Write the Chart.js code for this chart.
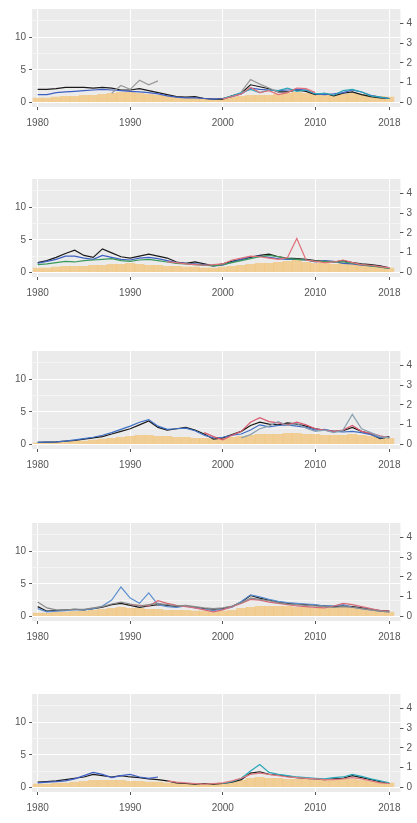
<!DOCTYPE html>
<html><head><meta charset="utf-8">
<script src="https://cdn.jsdelivr.net/npm/chart.js@4"></script>
<style>
body{margin:0;background:#fff;width:417px;height:823px;overflow:hidden;position:relative}
.p{position:absolute;left:0;width:417px;height:136px}
</style></head><body>
<div class="p" style="top:0px"><canvas id="c0"></canvas></div>
<div class="p" style="top:170px"><canvas id="c1"></canvas></div>
<div class="p" style="top:342px"><canvas id="c2"></canvas></div>
<div class="p" style="top:514px"><canvas id="c3"></canvas></div>
<div class="p" style="top:685px"><canvas id="c4"></canvas></div>
<script>
let years = [];
for (let y = 1980; y <= 2018; y++) years.push(y);
let xTicks = [1980, 1990, 2000, 2010, 2018];
let leftTicks = [0, 5, 10];
let rightTicks = [0, 1, 2, 3, 4];
const N = null;

// panel 1
let p1Black = [2.0,2.0,2.1,2.3,2.3,2.3,2.2,2.3,2.2,1.9,1.9,2.1,1.8,1.5,1.2,0.9,0.8,0.9,0.6,0.5,0.5,1.0,1.4,2.7,2.4,2.1,1.6,1.6,1.9,1.7,1.2,1.4,1.0,1.4,1.6,1.2,0.9,0.7,0.6];
let p1Blue = [1.2,1.2,1.5,1.6,1.7,1.8,1.9,2.0,1.9,1.8,1.7,1.6,1.5,1.3,1.0,0.8,0.7,0.7,0.6,0.5,0.6,0.9,1.3,2.2,2.0,1.9,1.8,1.9,2.0,1.9,1.3,1.2,1.3,1.5,1.9,1.6,1.1,0.8,0.6];
let p1Grey = [N,N,N,N,N,N,N,N,1.4,2.6,2.0,3.4,2.7,3.3,N,N,N,N,N,N,N,N,1.6,3.5,2.8,2.2,1.6,N,N,N,N,N,N,N,N,N,N,N,N];
let p1Cyan = [N,N,N,N,N,N,N,N,N,N,N,N,N,N,N,N,N,N,N,N,0.6,1.0,1.5,2.0,1.5,1.9,1.8,2.2,1.7,1.9,1.3,1.4,1.1,1.8,2.0,1.6,1.0,0.8,0.6];
let p1Red = [N,N,N,N,N,N,N,N,N,N,N,N,N,N,N,N,N,N,N,N,0.5,0.9,1.3,2.3,1.5,1.8,1.2,1.5,2.2,2.1,1.5,N,N,N,N,N,N,N,N];
let p1Bars = [0.2,0.2,0.25,0.3,0.3,0.35,0.35,0.4,0.45,0.5,0.5,0.45,0.4,0.35,0.3,0.25,0.2,0.2,0.15,0.15,0.2,0.25,0.3,0.35,0.35,0.35,0.4,0.45,0.5,0.45,0.4,0.4,0.35,0.4,0.45,0.4,0.35,0.3,0.25];

// panel 2
let p2Black = [1.5,1.8,2.3,2.9,3.4,2.6,2.3,3.6,3.0,2.4,2.2,2.5,2.8,2.5,2.2,1.6,1.4,1.6,1.3,1.0,1.3,1.7,2.0,2.3,2.6,2.8,2.4,2.2,2.1,2.0,1.8,1.7,1.6,1.8,1.5,1.3,1.2,1.0,0.7];
let p2Blue = [1.4,1.7,2.0,2.5,2.5,2.2,2.0,2.6,2.3,2.0,1.9,2.2,2.3,2.1,1.8,1.5,1.4,1.3,1.2,1.0,1.1,1.6,2.0,2.4,2.5,2.3,2.1,2.0,2.0,1.9,1.6,1.8,1.7,1.4,1.3,1.1,1.0,0.9,0.6];
let p2Red = [N,N,N,N,N,N,N,N,N,N,N,N,N,N,1.6,1.5,1.3,1.2,1.1,1.2,1.3,1.9,2.2,2.5,2.4,2.2,2.0,2.3,5.2,1.9,1.7,1.5,1.6,1.9,1.5,1.2,1.1,0.9,0.7];
let p2Green = [1.2,1.3,1.5,1.7,1.6,1.8,1.9,2.0,2.1,1.8,1.7,1.9,2.0,1.8,1.6,1.4,1.3,1.2,1.1,1.0,1.2,1.5,1.8,2.1,2.4,2.6,2.4,2.1,2.0,1.9,1.7,1.7,1.6,1.6,1.4,1.2,1.0,0.8,0.6];
let p2Bars = [0.2,0.2,0.25,0.3,0.3,0.3,0.35,0.35,0.4,0.4,0.45,0.4,0.35,0.35,0.3,0.3,0.25,0.25,0.2,0.2,0.25,0.3,0.35,0.4,0.45,0.45,0.5,0.55,0.6,0.5,0.45,0.45,0.4,0.45,0.4,0.35,0.3,0.25,0.2];

// panel 3
let p3Black = [0.3,0.35,0.4,0.5,0.6,0.8,1.0,1.2,1.6,2.0,2.4,3.0,3.6,2.6,2.2,2.4,2.6,2.2,1.6,0.8,1.0,1.5,2.0,2.9,3.4,3.1,3.0,3.3,3.1,2.8,2.4,2.2,2.0,2.1,2.6,2.0,1.6,0.9,1.2];
let p3Blue = [0.3,0.35,0.4,0.5,0.7,0.9,1.1,1.4,1.8,2.3,2.8,3.4,3.8,2.8,2.3,2.4,2.5,2.1,1.4,1.0,1.1,1.4,1.6,2.2,3.0,2.7,2.9,3.0,2.8,2.6,2.2,2.3,2.0,1.9,2.0,1.8,1.5,1.0,1.1];
let p3Red = [N,N,N,N,N,N,N,N,N,N,N,N,N,N,N,N,N,N,1.8,1.2,0.7,1.4,2.0,3.4,4.1,3.5,3.3,3.0,3.4,3.0,2.4,2.2,2.0,2.2,2.9,2.0,1.7,1.3,1.0];
let p3Grey = [N,N,N,N,N,N,N,N,N,N,N,N,N,N,N,N,N,N,N,N,N,N,1.0,1.5,2.4,2.8,3.5,2.9,3.2,2.5,2.0,2.2,1.8,2.2,4.6,2.4,1.8,1.2,1.0];
let p3Bars = [0.05,0.05,0.1,0.1,0.15,0.15,0.2,0.25,0.3,0.35,0.4,0.45,0.45,0.4,0.4,0.35,0.35,0.3,0.3,0.25,0.3,0.35,0.4,0.45,0.5,0.5,0.5,0.55,0.55,0.5,0.5,0.45,0.45,0.45,0.5,0.45,0.4,0.35,0.3];

// panel 4
let p4Black = [1.5,0.8,0.9,1.0,1.1,1.0,1.2,1.4,1.8,2.0,1.7,1.4,1.6,1.8,1.7,1.5,1.6,1.4,1.2,1.1,1.2,1.5,2.2,3.2,2.8,2.5,2.2,2.0,1.9,1.8,1.7,1.6,1.5,1.6,1.5,1.3,1.1,0.9,0.8];
let p4Blue = [1.2,0.7,0.8,0.9,1.0,1.0,1.2,1.6,2.5,4.5,2.8,2.0,3.6,1.8,1.5,1.4,1.6,1.3,1.1,0.9,1.1,1.4,2.3,3.3,3.0,2.6,2.3,2.1,2.0,1.9,1.8,1.6,1.6,1.8,1.4,1.2,1.0,0.8,0.7];
let p4Red = [N,N,N,N,N,N,N,N,N,N,1.8,1.7,1.6,2.4,2.0,1.7,1.5,1.3,1.0,0.7,1.0,1.5,2.0,2.6,2.5,2.2,2.0,1.8,1.6,1.5,1.4,1.3,1.6,2.0,1.8,1.5,1.2,0.9,0.8];
let p4Grey = [2.2,1.3,1.0,1.0,1.1,1.1,1.3,1.5,1.9,2.2,1.9,1.6,1.8,2.0,1.8,1.6,1.7,1.5,1.3,1.2,1.3,1.6,2.1,2.8,2.6,2.4,2.1,1.9,1.8,1.7,1.6,1.5,1.4,1.5,1.4,1.2,1.0,0.8,0.7];
let p4Bars = [0.15,0.15,0.2,0.2,0.25,0.25,0.3,0.35,0.4,0.45,0.4,0.4,0.35,0.35,0.3,0.3,0.3,0.25,0.25,0.2,0.25,0.3,0.4,0.45,0.5,0.5,0.5,0.5,0.45,0.45,0.4,0.4,0.4,0.45,0.4,0.35,0.3,0.25,0.2];

// panel 5
let p5Black = [0.8,0.9,1.0,1.2,1.4,1.6,2.0,1.8,1.6,1.8,1.6,1.5,1.3,1.2,1.0,0.7,0.6,0.5,0.6,0.5,0.6,0.8,1.2,2.2,2.4,2.0,1.9,1.7,1.5,1.4,1.3,1.2,1.3,1.4,1.8,1.5,1.2,0.9,0.6];
let p5Blue = [0.7,0.8,0.9,1.0,1.3,1.8,2.3,2.0,1.5,1.8,2.0,1.6,1.4,1.6,N,N,N,N,N,N,N,N,N,N,N,N,N,N,N,N,N,N,N,N,N,N,N,N,N];
let p5Cyan = [N,N,N,N,N,N,N,N,N,N,N,N,N,N,N,N,N,N,N,N,0.6,0.9,1.4,2.5,3.5,2.3,2.0,1.8,1.6,1.5,1.4,1.3,1.5,1.6,2.0,1.7,1.3,1.0,0.7];
let p5Red = [N,N,N,N,N,N,N,N,N,N,N,N,N,N,1.0,0.8,0.7,0.6,0.5,0.6,0.7,1.0,1.4,2.0,2.2,2.0,1.8,1.6,1.5,1.4,1.3,1.2,1.2,1.3,1.5,1.3,1.0,0.7,0.6];
let p5Bars = [0.15,0.15,0.2,0.2,0.25,0.3,0.35,0.35,0.35,0.35,0.3,0.3,0.25,0.25,0.2,0.2,0.15,0.15,0.15,0.15,0.2,0.25,0.35,0.45,0.5,0.45,0.45,0.4,0.4,0.4,0.35,0.35,0.35,0.4,0.4,0.35,0.3,0.25,0.2];

let panels = [
  {lines: [[p1Grey,'#9a9a9a'],[p1Red,'#e0707a'],[p1Cyan,'#2aa7b8'],[p1Blue,'#3e5fc4'],[p1Black,'#1a1a1a']], bars: p1Bars},
  {lines: [[p2Red,'#e0707a'],[p2Green,'#3a9a5a'],[p2Blue,'#3e5fc4'],[p2Black,'#1a1a1a']], bars: p2Bars},
  {lines: [[p3Grey,'#8aa0b0'],[p3Red,'#d85a70'],[p3Blue,'#3e6fc4'],[p3Black,'#1a1a1a']], bars: p3Bars},
  {lines: [[p4Grey,'#8a8a8a'],[p4Red,'#d86a78'],[p4Blue,'#5b8fd0'],[p4Black,'#1a1a1a']], bars: p4Bars},
  {lines: [[p5Red,'#e07a80'],[p5Blue,'#3e5fc4'],[p5Cyan,'#2aa7b8'],[p5Black,'#1a1a1a']], bars: p5Bars}
];

const panelBg = {
  id: 'panelBg',
  beforeDraw(chart) {
    let a = chart.chartArea, ctx = chart.ctx;
    ctx.save();
    ctx.fillStyle = '#ebebeb';
    ctx.fillRect(a.left, a.top, a.right - a.left, a.bottom - a.top);
    ctx.restore();
  }
};

function runGraph(id, panel) {
  let datasets = panel.lines.map(l => ({
    type: 'line',
    data: l[0].map((v, i) => ({x: years[i], y: v})),
    borderColor: l[1],
    borderWidth: 1.2,
    pointRadius: 0,
    spanGaps: false,
    yAxisID: 'y'
  }));
  datasets.push({
    type: 'bar',
    data: panel.bars.map((v, i) => ({x: years[i], y: v})),
    backgroundColor: 'rgba(242,196,120,0.75)',
    barPercentage: 1, categoryPercentage: 1,
    yAxisID: 'y1'
  });
  let tickFont = {family: 'Liberation Sans Narrow, Liberation Sans', size: 10};
  let minorTick = ctx => (ctx.tick && leftTicks.includes(ctx.tick.value)) ? '#555' : 'rgba(0,0,0,0)';
  return new Chart(document.getElementById(id), {
    data: {datasets: datasets},
    plugins: [panelBg],
    options: {
      animation: false, responsive: true, maintainAspectRatio: false,
      layout: {padding: {top: 3, right: 2, left: 12}},
      plugins: {legend: {display: false}, tooltip: {enabled: false}},
      scales: {
        x: {type: 'linear', min: 1979.4, max: 2019.2, offset: false,
          afterBuildTicks: s => { s.ticks = xTicks.map(v => ({value: v})); },
          grid: {color: '#ffffff', offset: false, tickLength: 3, tickColor: '#555'},
          border: {display: false},
          ticks: {color: '#555', font: tickFont, padding: 7, maxRotation: 0, autoSkip: false, callback: v => String(v)}},
        y: {position: 'left', min: -0.7, max: 14.3,
          afterBuildTicks: s => { s.ticks = [0, 2.5, 5, 7.5, 10, 12.5].map(v => ({value: v})); },
          grid: {color: ctx => (ctx.tick && leftTicks.includes(ctx.tick.value)) ? '#ffffff' : '#f4f4f4', tickLength: 3, tickColor: minorTick},
          border: {display: false},
          ticks: {color: '#555', font: tickFont, callback: v => leftTicks.includes(v) ? v : ''}},
        y1: {position: 'right', min: -0.25, max: 4.75,
          afterBuildTicks: s => { s.ticks = rightTicks.map(v => ({value: v})); },
          grid: {drawOnChartArea: false, tickLength: 3, tickColor: '#555'},
          border: {display: false},
          ticks: {color: '#555', font: tickFont}}
      }
    }
  });
}

panels.forEach((p, i) => runGraph('c' + i, p));
</script>
</body></html>
